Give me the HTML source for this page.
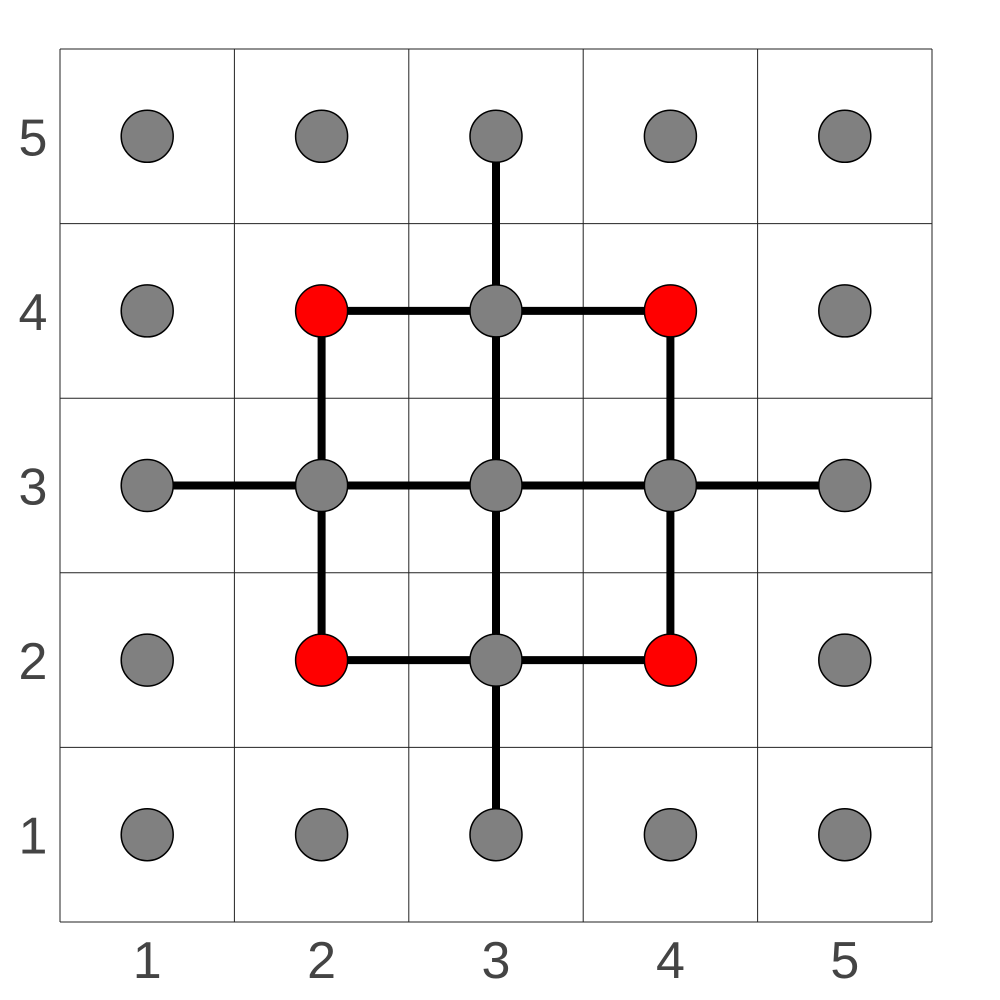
<!DOCTYPE html>
<html><head><meta charset="utf-8"><style>
html,body{margin:0;padding:0;background:#fff;width:1000px;height:1000px;overflow:hidden}
svg{display:block}
text{font-family:"Liberation Sans",sans-serif;font-size:52px;fill:#444}
</style></head><body>
<svg id="chart" width="1000" height="1000"></svg>
<script>
const xTicks=[1,2,3,4,5];
const yTicks=[1,2,3,4,5];
const grayNodes=[[1,5],[2,5],[3,5],[4,5],[5,5],[1,4],[3,4],[5,4],[1,3],[2,3],[3,3],[4,3],[5,3],[1,2],[3,2],[5,2],[1,1],[2,1],[3,1],[4,1],[5,1]];
const redNodes=[[2,4],[4,4],[2,2],[4,2]];
const edges=[[[3,5],[3,4]],[[2,4],[3,4]],[[3,4],[4,4]],[[2,4],[2,3]],[[4,4],[4,3]],[[3,4],[3,3]],[[1,3],[2,3]],[[2,3],[3,3]],[[3,3],[4,3]],[[4,3],[5,3]],[[2,3],[2,2]],[[3,3],[3,2]],[[4,3],[4,2]],[[2,2],[3,2]],[[3,2],[4,2]],[[3,2],[3,1]]];
const L=60,R=932,T=49,B=922;
const sx=v=>L+(v-0.5)*(R-L)/5;
const sy=v=>B-(v-0.5)*(B-T)/5;
const svg=document.getElementById('chart');
const NS='http://www.w3.org/2000/svg';
function mk(t,a){const e=document.createElementNS(NS,t);for(const k in a)e.setAttribute(k,a[k]);svg.appendChild(e);return e;}
for(let i=0;i<=5;i++){
 const x=L+i*(R-L)/5, y=T+i*(B-T)/5;
 const gv=mk('line',{x1:x,y1:T,x2:x,y2:B,stroke:'#222','stroke-width':1});
 
 
 const gh=mk('line',{x1:L,y1:y,x2:R,y2:y,stroke:'#222','stroke-width':1});
 
 
}
xTicks.forEach(v=>{const t=mk('text',{x:sx(v),y:978,'text-anchor':'middle'});t.textContent=v;
 
 });
yTicks.forEach(v=>{const t=mk('text',{x:33,y:sy(v)+19,'text-anchor':'middle'});t.textContent=v;
 
 });
edges.forEach(([a,b])=>{const l=mk('line',{x1:sx(a[0]),y1:sy(a[1]),x2:sx(b[0]),y2:sy(b[1]),stroke:'#000','stroke-width':8});
 
 });
grayNodes.forEach(([x,y])=>{const c=mk('circle',{cx:sx(x),cy:sy(y),r:26,fill:'#808080',stroke:'#000','stroke-width':1.5});
 
 });
redNodes.forEach(([x,y])=>{const c=mk('circle',{cx:sx(x),cy:sy(y),r:26,fill:'#ff0000',stroke:'#000','stroke-width':1.5});
 
 });
</script>
</body></html>
